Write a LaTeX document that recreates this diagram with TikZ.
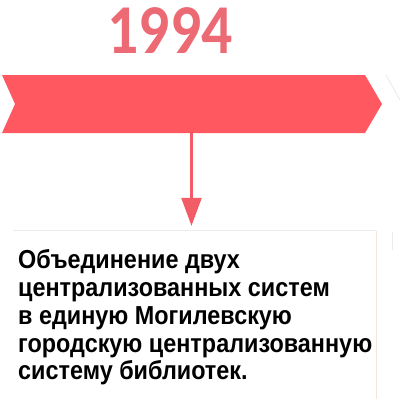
\documentclass[tikz,border=0pt]{standalone}
\usepackage{fontspec}
\setmainfont{Liberation Sans}
\newfontfamily\yearfont{Carlito}
\usetikzlibrary{arrows.meta,positioning}
\definecolor{bandred}{RGB}{255,88,97}
\definecolor{yearpink}{RGB}{236,106,116}
\definecolor{arrowred}{RGB}{242,92,102}
\definecolor{edgegrey}{RGB}{236,236,236}
\definecolor{edgepink}{RGB}{246,228,224}

\begin{document}
\begin{tikzpicture}[
    x=1pt,
    y=-1pt,
    year/.style ={
        text=yearpink,
        font=\yearfont\bfseries\fontsize{70}{70}\selectfont,
        xscale=0.88,
        transform shape,
        inner sep=0pt,
        anchor=base
    },
    desc/.style ={
        font=\fontsize{26}{27.8}\selectfont\bfseries,
        align=left,
        inner sep=0pt,
        xscale=0.9,
        transform shape,
        anchor=north west
    },
    conn/.style ={
        draw=arrowred,
        line width=2.5pt,
        -{Triangle[width=20pt,length=28pt]}
    }
    ]
    \useasboundingbox (0,0) rectangle (400,400);

    % year label
    \node[year] (yr) at (170,53) {1994};

    % red chevron band and the faint next one
    \fill[bandred] (2,75) -- (365,75) -- (382,104) -- (365,133) -- (2,133) -- (15,104) -- cycle;
    \draw[edgegrey,line width=1pt] (386,75) -- (400,100);
    \coordinate (bandfoot) at (191.5,133);

    % text box
    \node[minimum width=363pt,minimum height=168pt,inner sep=0pt] (box) at (194.5,315) {};
    \draw[edgegrey,line width=0.8pt] (box.north west) -- (box.north east);
    \draw[edgepink,line width=1pt] (box.north east) -- (box.south east);
    \draw[edgegrey,line width=0.8pt] (392,232) -- (392,250);
    \node[desc] (txt) at (18,249.5) {Объединение двух\\централизованных систем\\в единую Могилевскую\\городскую централизованную\\систему библиотек.};

    \draw[conn,shorten >=5pt] (bandfoot) -- (bandfoot |- box.north);
\end{tikzpicture}
\end{document}
